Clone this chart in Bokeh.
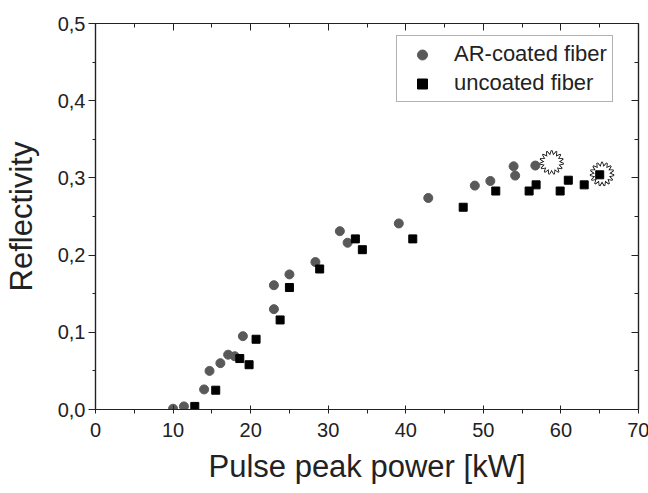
from bokeh.plotting import figure
from bokeh.models import (Range1d, LinearAxis, FixedTicker, CustomJSTickFormatter,
                          Legend, LegendItem)
from bokeh.embed import file_html
from bokeh.resources import INLINE
import math

# ---- data ----
ar_x = [10.0, 11.4, 14.0, 14.7, 16.1, 17.1, 17.95, 19.0, 23.0, 23.0, 25.0, 28.35,
        31.5, 32.5, 39.1, 42.9, 48.9, 50.9, 53.9, 54.1, 56.7]
ar_y = [0.001, 0.004, 0.026, 0.050, 0.060, 0.071, 0.069, 0.095, 0.130, 0.161, 0.175, 0.191,
        0.231, 0.216, 0.241, 0.274, 0.290, 0.296, 0.315, 0.303, 0.316]

unc_x = [12.8, 15.5, 18.6, 19.8, 20.7, 23.8, 25.0, 28.9, 33.5, 34.4, 40.9, 47.4,
         51.6, 55.9, 56.8, 59.9, 60.95, 63.0, 65.0]
unc_y = [0.004, 0.025, 0.066, 0.058, 0.091, 0.116, 0.158, 0.182, 0.221, 0.207, 0.221, 0.262,
         0.283, 0.283, 0.291, 0.283, 0.297, 0.291, 0.304]

burst_x = [58.8, 65.3]
burst_y = [0.320, 0.305]

x_ticks = [0, 10, 20, 30, 40, 50, 60, 70]
x_minor = [5, 15, 25, 35, 45, 55, 65]
y_ticks = [0.0, 0.1, 0.2, 0.3, 0.4, 0.5]
y_minor = [0.05, 0.15, 0.25, 0.35, 0.45]

x_label = "Pulse peak power [kW]"
y_label = "Reflectivity"
legend_labels = ["AR-coated fiber", "uncoated fiber"]

FONT = "Liberation Sans"
AXC = "#222222"
TXT = "#222222"

p = figure(frame_width=543, frame_height=386,
           min_border_left=94, min_border_right=11, min_border_top=23, min_border_bottom=76,
           x_range=Range1d(0, 70), y_range=Range1d(0, 0.5),
           output_backend="svg", toolbar_location=None,
           background_fill_color="white", border_fill_color="white")
p.outline_line_color = AXC
p.outline_line_width = 1.2
p.xgrid.visible = False
p.ygrid.visible = False

xt = FixedTicker(ticks=x_ticks, minor_ticks=x_minor)
yt = FixedTicker(ticks=y_ticks, minor_ticks=y_minor)
yfmt = CustomJSTickFormatter(code="return tick.toFixed(1).replace('.', ',');")

xa = p.xaxis[0]
xa.ticker = xt
xa.axis_label = x_label
xa.axis_label_text_font = FONT
xa.axis_label_text_font_size = "31px"
xa.axis_label_text_font_style = "normal"
xa.axis_label_text_color = TXT
xa.axis_label_standoff = 9
xa.major_label_text_font = FONT
xa.major_label_text_font_size = "20px"
xa.major_label_text_color = TXT
xa.major_label_standoff = 9
xa.major_tick_in = 4
xa.major_tick_out = 4
xa.minor_tick_in = 0
xa.minor_tick_out = 4
xa.axis_line_color = AXC
xa.axis_line_width = 1.2
xa.major_tick_line_color = AXC
xa.minor_tick_line_color = AXC

ya = p.yaxis[0]
ya.ticker = yt
ya.formatter = yfmt
ya.axis_label = y_label
ya.axis_label_text_font = FONT
ya.axis_label_text_font_size = "31px"
ya.axis_label_text_font_style = "normal"
ya.axis_label_text_color = TXT
ya.axis_label_standoff = 16
ya.major_label_text_font = FONT
ya.major_label_text_font_size = "20px"
ya.major_label_text_color = TXT
ya.major_label_standoff = 3
ya.major_tick_in = 0
ya.major_tick_out = 7
ya.minor_tick_in = 0
ya.minor_tick_out = 3
ya.axis_line_color = AXC
ya.axis_line_width = 1.2
ya.major_tick_line_color = AXC
ya.minor_tick_line_color = AXC

for side, tk in (("above", xt), ("right", yt)):
    ax = LinearAxis(ticker=tk, major_label_text_font_size="0px", major_label_standoff=0,
                    major_tick_in=7, major_tick_out=0, minor_tick_in=4, minor_tick_out=0,
                    axis_line_color=AXC, axis_line_width=1.2,
                    major_tick_line_color=AXC, minor_tick_line_color=AXC)
    ax.major_label_text_color = None
    p.add_layout(ax, side)

# starbursts (drawn first, under the data points)
angles = [0, math.radians(24), math.radians(48)]
for a in angles:
    p.scatter(burst_x, burst_y, marker="star", size=24, angle=a,
              fill_color=None, line_color="black", line_width=1.6)
for a in angles:
    p.scatter(burst_x, burst_y, marker="star", size=24, angle=a,
              fill_color="white", line_color=None)

r_ar = p.scatter(ar_x, ar_y, marker="circle", size=9, fill_color="#595959",
                 line_color="#595959")
r_unc = p.scatter(unc_x, unc_y, marker="square", size=8, fill_color="black",
                  line_color="black")

legend = Legend(items=[LegendItem(label=legend_labels[0], renderers=[r_ar]),
                       LegendItem(label=legend_labels[1], renderers=[r_unc])],
                location=(301, 307), orientation="vertical",
                label_text_font=FONT, label_text_font_size="22px", label_text_color=TXT,
                padding=5, spacing=3, margin=0,
                glyph_width=40, glyph_height=25, label_height=25, label_standoff=12,
                border_line_color="#666666", border_line_width=1,
                background_fill_color="white", background_fill_alpha=1.0)
p.add_layout(legend, "center")

open("out.html", "w").write(file_html(p, INLINE))
